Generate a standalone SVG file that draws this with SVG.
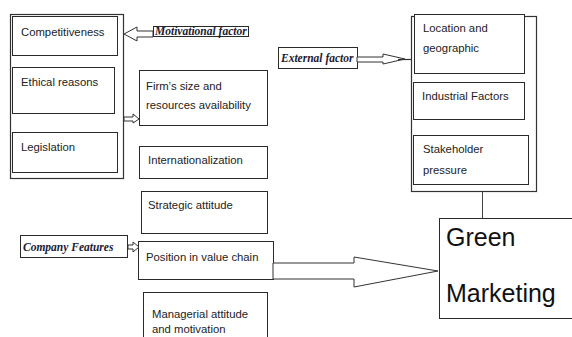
<svg xmlns="http://www.w3.org/2000/svg" width="572" height="337" viewBox="0 0 572 337">
<style>
.box{fill:#fff;stroke:#2a2a2a;stroke-width:1}
.cont{fill:none;stroke:#333;stroke-width:1.2}
.t{font-family:"Liberation Sans",Arial,sans-serif;font-size:11.3px;fill:#222}
.lbl{font-family:"Liberation Serif","Times New Roman",serif;font-weight:bold;font-style:italic;font-size:11.5px;fill:#1a1a33}
.arr{fill:#fff;stroke:#333;stroke-width:1}
.gm{font-family:"Liberation Sans",Arial,sans-serif;font-size:25px;fill:#111}
</style>
<rect width="572" height="337" fill="#fff"/>
<g id="motivational-group">
<rect class="cont" x="10.5" y="14.5" width="113" height="164"/>
</g>
<g id="competitiveness"><rect class="box" x="12.5" y="16.5" width="105" height="39"/><text class="t" x="21" y="36">Competitiveness</text></g>
<g id="ethical"><rect class="box" x="12.5" y="67.5" width="102" height="46"/><text class="t" x="21" y="86">Ethical reasons</text></g>
<g id="legislation"><rect class="box" x="12.5" y="132.5" width="105" height="40"/><text class="t" x="21" y="151">Legislation</text></g>
<g id="motivational-label"><rect class="box" x="153.5" y="26.5" width="95" height="10"/><text class="lbl" x="155" y="35" font-size="10.5">Motivational factor</text></g>
<g id="firm-size"><rect class="box" x="139.5" y="70.5" width="128" height="55"/><text class="t" x="146" y="90">Firm’s size and</text><text class="t" x="146" y="109">resources availability</text></g>
<g id="internationalization"><rect class="box" x="139.5" y="146.5" width="128" height="32"/><text class="t" x="148" y="164">Internationalization</text></g>
<g id="strategic"><rect class="box" x="141.5" y="191.5" width="126" height="42"/><text class="t" x="148" y="209">Strategic attitude</text></g>
<g id="company-label"><rect class="box" x="20.5" y="235.5" width="107" height="22"/><text class="lbl" x="23" y="251" font-size="12">Company Features</text></g>
<g id="position"><rect class="box" x="138.5" y="241.5" width="135" height="38"/><text class="t" x="146" y="261">Position in value chain</text></g>
<g id="managerial"><rect class="box" x="143.5" y="292.5" width="124" height="50"/><text class="t" x="152" y="318">Managerial attitude</text><text class="t" x="152" y="333">and motivation</text></g>
<g id="external-group"><rect class="cont" x="411.5" y="16.5" width="125" height="175"/></g>
<g id="location"><rect class="box" x="414.5" y="14.5" width="110" height="59"/><text class="t" x="423" y="32">Location and</text><text class="t" x="423" y="52">geographic</text></g>
<g id="industrial"><rect class="box" x="413.5" y="82.5" width="111" height="37"/><text class="t" x="422" y="100">Industrial Factors</text></g>
<g id="stakeholder"><rect class="box" x="413.5" y="135.5" width="115" height="49"/><text class="t" x="423" y="153">Stakeholder</text><text class="t" x="423" y="174">pressure</text></g>
<g id="external-label"><rect class="box" x="278.5" y="47.5" width="79" height="21"/><text class="lbl" x="281" y="62" font-size="12">External factor</text></g>
<g id="green-marketing"><rect class="box" x="439.5" y="218.5" width="140" height="100"/><text class="gm" x="446" y="246">Green</text><text class="gm" x="446" y="302">Marketing</text></g>
<g id="connectors">
<polygon class="arr" points="153,31 137,31 137,27 124,34 137,41 137,37 153,37"/>
<polygon class="arr" points="124,117 133,117 133,114 139,119 133,123 133,121 124,121"/>
<polygon class="arr" points="128,245 133,245 133,242 139,247 133,252 133,249 128,249"/>
<polygon class="arr" points="357,57 383,57 383,54 405,59 383,64 383,62 357,62"/>
<line x1="398" y1="59.5" x2="411" y2="59.5" stroke="#333" stroke-width="1.2"/>
<polygon class="arr" points="273,263 354,263 354,257 438,271 354,287 354,279 273,279"/>
<line x1="482.5" y1="192" x2="482.5" y2="218" stroke="#444" stroke-width="1"/>
</g>
</svg>
